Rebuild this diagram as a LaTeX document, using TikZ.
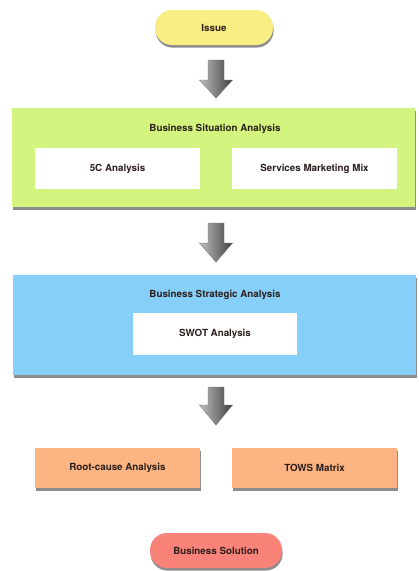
\documentclass[tikz,border=0pt]{standalone}
\usepackage{fontspec}
\setmainfont{TeX Gyre Heros}
\usetikzlibrary{shadows}
\definecolor{cyellow}{HTML}{F8EE84}
\definecolor{cgreen}{HTML}{D3F47E}
\definecolor{cblue}{HTML}{86CFF8}
\definecolor{corange}{HTML}{FBB482}
\definecolor{cred}{HTML}{F98279}
\definecolor{ctext}{HTML}{2A1E1A}
\begin{document}
\begin{tikzpicture}[x=1pt,y=-1pt,
  lbl/.style={font=\bfseries\fontsize{9.8}{11}\selectfont, text=ctext},
  shad/.style={drop shadow={shadow xshift=0.6pt, shadow yshift=-2.6pt, opacity=0.6, fill=black!75}},
  pill/.style={lbl, shad, rectangle, rounded corners=17pt, minimum height=35pt, inner sep=0pt},
  group/.style={shad, rectangle, minimum width=403pt, inner sep=0pt},
  innerbox/.style={lbl, rectangle, fill=white, inner sep=0pt, minimum height=41pt},
  resbox/.style={lbl, shad, rectangle, fill=corange, inner sep=0pt, minimum width=165pt, minimum height=40pt},
  arrowshade/.style={left color=gray!50, right color=black!75, draw=black!55, line width=0.4pt, line join=miter}
]
\useasboundingbox (0,0) rectangle (419,571);
\fill[white] (0,0) rectangle (419,571);

\node[pill, fill=cyellow, minimum width=118pt] (issue) at (214,27.5) {Issue};

\node[group, fill=cgreen, minimum height=99pt] (bsa) at (213.5,157.5) {};
\node[lbl] (bsat) at (215,129) {Business Situation Analysis};
\node[innerbox, minimum width=165pt] (fivec) at (117.5,168.5) {5C Analysis};
\node[innerbox, minimum width=165pt] (smm) at (314.5,168.5) {Services Marketing Mix};

\node[group, fill=cblue, minimum height=100pt] (bst) at (214.5,325) {};
\node[lbl] (bstt) at (215,295) {Business Strategic Analysis};
\node[innerbox, minimum width=164pt, minimum height=42pt] (swot) at (215,334) {SWOT Analysis};

\node[resbox] (root) at (117.5,468) {Root-cause Analysis};
\node[resbox] (tows) at (314.5,468) {TOWS Matrix};

\node[pill, fill=cred, minimum width=132pt] (sol) at (216,550.5) {Business Solution};

\foreach \yt/\yh/\yp in {60/80/98, 223/243/262, 387/405/425} {
  \shade[arrowshade] (208,\yt) -- (224,\yt) -- (224,\yh) -- (232.5,\yh) -- (216,\yp) -- (199.5,\yh) -- (208,\yh) -- cycle;
}
\end{tikzpicture}
\end{document}
